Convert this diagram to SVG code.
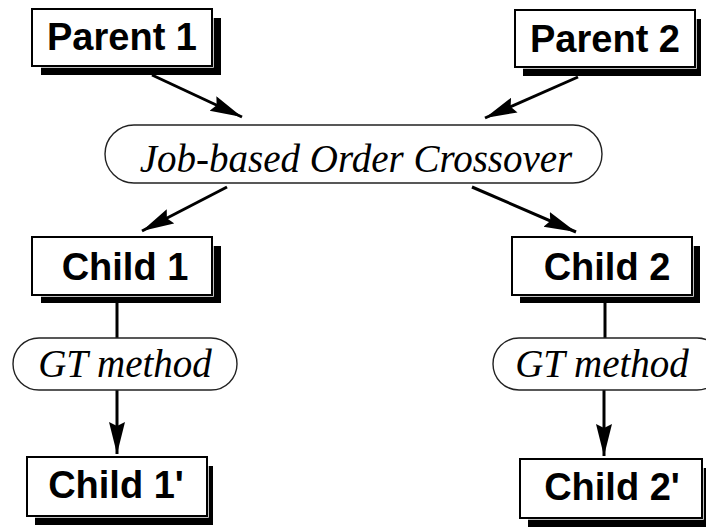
<svg xmlns="http://www.w3.org/2000/svg" width="706" height="527" viewBox="0 0 706 527">
<style>
.shadow{fill:#000}
.box{fill:#fff;stroke:#000;stroke-width:2}
.halo{fill:#fff;stroke:#fff;stroke-width:3.5}
.pill{fill:#fff;stroke:#222;stroke-width:1.4}
.bt{font-family:"Liberation Sans",Arial,sans-serif;font-weight:bold;font-size:38px;fill:#000;text-anchor:middle}
.it{font-family:"Liberation Serif","Times New Roman",serif;font-style:italic;font-size:39px;fill:#000;text-anchor:middle}
.conn{stroke:#000;stroke-width:3;fill:none}
</style>
<defs>
<marker id="ah" markerUnits="userSpaceOnUse" markerWidth="34" markerHeight="18" refX="32" refY="9" orient="auto">
<path d="M0,1 L32,9 L0,17 L4,9 z" fill="#000"/>
</marker>
</defs>
<rect width="706" height="527" fill="#fff"/>
<g id="connectors">
<line class="conn" x1="152" y1="75" x2="242" y2="117" marker-end="url(#ah)"/>
<line class="conn" x1="578" y1="77" x2="485" y2="118" marker-end="url(#ah)"/>
<line class="conn" x1="227" y1="187" x2="142" y2="231" marker-end="url(#ah)"/>
<line class="conn" x1="472" y1="187" x2="576" y2="232" marker-end="url(#ah)"/>
<line class="conn" x1="117" y1="300" x2="117" y2="338"/>
<line class="conn" x1="605" y1="300" x2="605" y2="338"/>
<line class="conn" x1="117" y1="390" x2="117" y2="454" marker-end="url(#ah)"/>
<line class="conn" x1="604" y1="390" x2="604" y2="456" marker-end="url(#ah)"/>
</g>
<g id="parent1">
<rect class="shadow" x="41" y="18" width="180" height="57"/>
<rect class="halo" x="32" y="9" width="180" height="57"/>
<rect class="box" x="32" y="9" width="180" height="57"/>
<text class="bt" x="122" y="50">Parent 1</text>
</g>
<g id="parent2">
<rect class="shadow" x="523" y="19" width="178" height="57"/>
<rect class="halo" x="515" y="10" width="180" height="57"/>
<rect class="box" x="515" y="10" width="180" height="57"/>
<text class="bt" x="605" y="52">Parent 2</text>
</g>
<g id="crossover">
<rect class="pill" x="105" y="125" width="497" height="58" rx="29" ry="29"/>
<text class="it" x="356" y="172">Job-based Order Crossover</text>
</g>
<g id="child1">
<rect class="shadow" x="41" y="246" width="180" height="57"/>
<rect class="halo" x="32" y="237" width="180" height="58"/>
<rect class="box" x="32" y="237" width="180" height="58"/>
<text class="bt" x="125" y="280">Child 1</text>
</g>
<g id="child2">
<rect class="shadow" x="520" y="246" width="180" height="57"/>
<rect class="halo" x="512" y="237" width="180" height="58"/>
<rect class="box" x="512" y="237" width="180" height="58"/>
<text class="bt" x="607" y="280">Child 2</text>
</g>
<g id="gt1">
<rect class="pill" x="13" y="338" width="224" height="52" rx="26" ry="26"/>
<text class="it" x="125" y="377">GT method</text>
</g>
<g id="gt2">
<rect class="pill" x="493" y="338" width="230" height="52" rx="26" ry="26"/>
<text class="it" x="602" y="377">GT method</text>
</g>
<g id="child1p">
<rect class="shadow" x="35" y="466" width="178" height="59"/>
<rect class="halo" x="27" y="457" width="180" height="59"/>
<rect class="box" x="27" y="457" width="180" height="59"/>
<text class="bt" x="116" y="498">Child 1'</text>
</g>
<g id="child2p">
<rect class="shadow" x="528" y="468" width="180" height="59"/>
<rect class="halo" x="520" y="459" width="182" height="59"/>
<rect class="box" x="520" y="459" width="182" height="59"/>
<text class="bt" x="612" y="500">Child 2'</text>
</g>
</svg>
